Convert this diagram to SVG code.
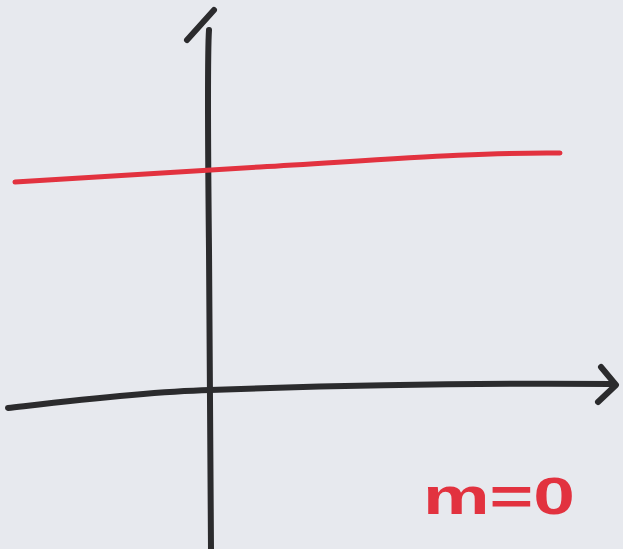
<svg xmlns="http://www.w3.org/2000/svg" width="623" height="549" viewBox="0 0 623 549">
<style>
.ax{fill:none;stroke:#2b2b2d;stroke-width:6;stroke-linecap:round;stroke-linejoin:round}
.rd{fill:none;stroke:#e2323f;stroke-width:5;stroke-linecap:round}
.lbl{font-family:"Liberation Sans",Arial,sans-serif;font-weight:bold;font-size:52px;fill:#e2323f}
</style>
<rect width="623" height="549" fill="#e7e9ee"/>
<g id="axes">
<path class="ax" d="M209,30 C207,60 208,150 209,250 C210,350 210,450 211,549"/>
<path class="ax" d="M187,40 L214,10"/>
<path class="ax" d="M8,408 C60,402 140,392 210,390 C350,385 480,383 612,384"/>
<path class="ax" d="M601,367 L616,385 L598,402"/>
</g>
<g id="line">
<path class="rd" d="M15,182 C120,176 200,170 260,167 C380,160 480,152 560,153"/>
</g>
<g id="label">
<text class="lbl" x="423" y="514" textLength="152" lengthAdjust="spacingAndGlyphs">m=0</text>
</g>
</svg>
